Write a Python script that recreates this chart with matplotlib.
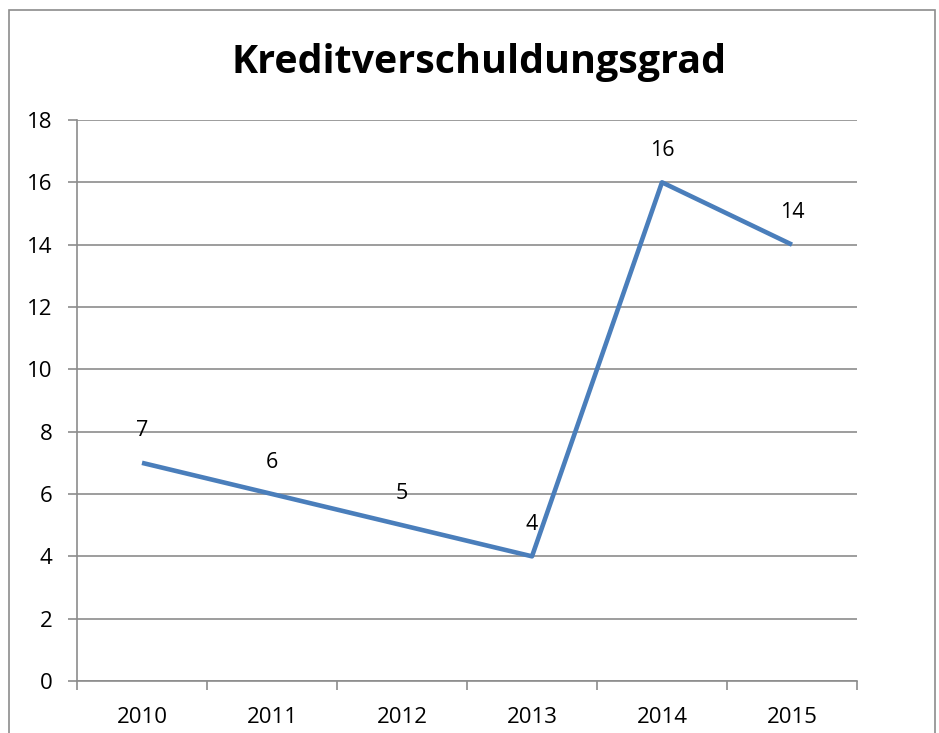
import matplotlib
matplotlib.use("Agg")
import matplotlib.pyplot as plt
from matplotlib.patches import Rectangle

years = ["2010", "2011", "2012", "2013", "2014", "2015"]
values = [7, 6, 5, 4, 16, 14]
yticks = [0, 2, 4, 6, 8, 10, 12, 14, 16, 18]
title = "Kreditverschuldungsgrad"

W, H = 939, 733
plt.rcParams['font.family'] = ['Open Sans', 'DejaVu Sans']
fig = plt.figure(figsize=(W / 100, H / 100), dpi=100)

# outer chart border
fig.patches.append(Rectangle((9 / W, -0.05), (935 - 9) / W, 1.05 - 10 / H,
                             transform=fig.transFigure, fill=False,
                             edgecolor='#8c8c8c', linewidth=1.2))

ax = fig.add_axes([77 / W, 1 - 681 / H, (857 - 77) / W, (681 - 120) / H])
x = list(range(len(years)))
ax.plot(x, values, color='#4A7EBB', linewidth=3.3, solid_capstyle='butt', zorder=3)
for xi, v in zip(x, values):
    ax.annotate(str(v), (xi, v), xytext=(0, 23), textcoords='offset points',
                ha='center', va='center', fontsize=15.5, color='black')

ax.set_xlim(-0.5, len(years) - 0.5)
ax.set_ylim(0, 18)
ax.set_yticks(yticks)
ax.set_yticklabels([str(t) for t in yticks], fontsize=16)
ax.set_xticks(x)
ax.set_xticklabels(years, fontsize=16)
ax.tick_params(axis='x', length=0, pad=19)
ax.set_xticks([i - 0.5 for i in range(len(years) + 1)], minor=True)
ax.tick_params(axis='x', which='minor', length=6.5, color='#8c8c8c', width=1.2)
ax.tick_params(axis='y', length=6.5, color='#8c8c8c', width=1.2, pad=11)
ax.grid(axis='y', color='#8c8c8c', linewidth=1.2)
ax.set_axisbelow(True)
for s in ['top', 'right']:
    ax.spines[s].set_visible(False)
for s in ['left', 'bottom']:
    ax.spines[s].set_color('#8c8c8c')
    ax.spines[s].set_linewidth(1.2)

fig.text(479 / W, 1 - 62 / H, title, ha='center', va='center',
         fontsize=28.4, fontweight='bold')

fig.savefig("out.png", dpi=100)
